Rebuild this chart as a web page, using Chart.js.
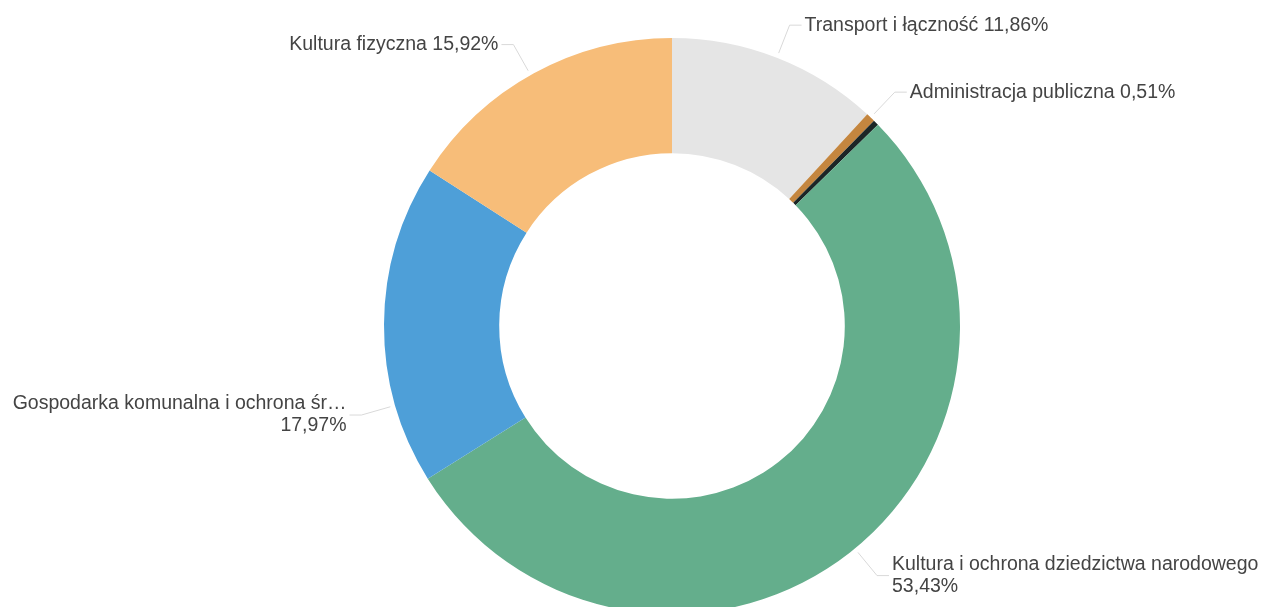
<!DOCTYPE html>
<html lang="pl">
<head>
<meta charset="utf-8">
<title>Struktura wydatków</title>
<script src="https://cdn.jsdelivr.net/npm/chart.js@4/dist/chart.umd.min.js"></script>
<style>
    html, body { margin: 0; padding: 0; background: #fff; overflow: hidden; }
    canvas { display: block; }
</style>
</head>
<body>
<canvas id="chart" width="1266" height="660"></canvas>
<script>
// categories, clockwise from 12 o'clock
const categories = [
    'Transport i łączność',
    'Administracja publiczna',
    'Pozostałe',
    'Kultura i ochrona dziedzictwa narodowego',
    'Gospodarka komunalna i ochrona środowiska',
    'Kultura fizyczna',
];
// share of total, %
const values = [11.86, 0.51, 0.31, 53.43, 17.97, 15.92];
const colors = ['#e5e5e5', '#c4863f', '#1c2626', '#64ae8c', '#4e9fd8', '#f7bd79'];

const sliceLabels = {
    id: 'sliceLabels',
    afterDatasetsDraw(chart, args, opts) {
        const ctx = chart.ctx;
        const meta = chart.getDatasetMeta(0);
        const total = values.reduce((a, b) => a + b, 0);

        const fit = (text, width) => {
            if (ctx.measureText(text).width <= width) {
                return text;
            }
            let t = text;
            while (t.length > 1 && ctx.measureText(t + '…').width > width) {
                t = t.slice(0, -1);
            }
            return t.trimEnd() + '…';
        };

        ctx.save();
        ctx.font = opts.font;
        ctx.lineWidth = 1;
        meta.data.forEach((arc, i) => {
            if (opts.hidden.includes(i)) {
                return;
            }
            const p = arc.getProps(['x', 'y', 'startAngle', 'endAngle', 'outerRadius'], true);
            let a = (p.startAngle + p.endAngle) / 2;
            if (opts.angles[i] != null) {
                a = (opts.angles[i] - 90) * Math.PI / 180;
            }
            const cos = Math.cos(a);
            const sin = Math.sin(a);
            const right = cos >= 0;
            const dir = right ? 1 : -1;

            const x0 = p.x + cos * (p.outerRadius + opts.startGap);
            const y0 = p.y + sin * (p.outerRadius + opts.startGap);
            const x1 = p.x + cos * (p.outerRadius + opts.elbow);
            const y1 = p.y + sin * (p.outerRadius + opts.elbow);
            const x2 = x1 + dir * opts.arm;

            ctx.strokeStyle = opts.lineColor;
            ctx.beginPath();
            ctx.moveTo(x0, y0);
            ctx.lineTo(x1, y1);
            ctx.lineTo(x2, y1);
            ctx.stroke();

            const tx = x2 + dir * opts.textGap;
            const avail = right ? chart.width - tx - opts.margin : tx - opts.margin;
            const pct = (values[i] / total * 100).toFixed(2).replace('.', ',') + '%';
            const one = categories[i] + ' ' + pct;
            const lines = ctx.measureText(one).width <= avail
                ? [one]
                : [fit(categories[i], avail), pct];

            ctx.fillStyle = opts.color;
            ctx.textAlign = right ? 'left' : 'right';
            ctx.textBaseline = 'middle';
            lines.forEach((t, k) => {
                ctx.fillText(t, tx, y1 + (k - (lines.length - 1) / 2) * opts.lineHeight);
            });
        });
        ctx.restore();
    },
};

new Chart(document.getElementById('chart'), {
    type: 'doughnut',
    data: {
        labels: categories,
        datasets: [{
            data: values,
            backgroundColor: colors,
            borderWidth: 0,
            hoverOffset: 0,
        }],
    },
    options: {
        responsive: false,
        animation: false,
        devicePixelRatio: 1,
        cutout: '60%',
        layout: {
            padding: { top: 38, bottom: 46, left: 384, right: 306 },
        },
        plugins: {
            legend: { display: false },
            tooltip: { enabled: false },
            sliceLabels: {
                font: '19.5px "Liberation Sans", Arial, sans-serif',
                color: '#444444',
                lineColor: '#d9d9d9',
                lineHeight: 22,
                startGap: 5,
                elbow: 35,
                arm: 12,
                textGap: 3,
                margin: 2,
                hidden: [2],
                angles: { 3: 140.6, 4: 254, 5: 330.6 },
            },
        },
    },
    plugins: [sliceLabels],
});
</script>
</body>
</html>
